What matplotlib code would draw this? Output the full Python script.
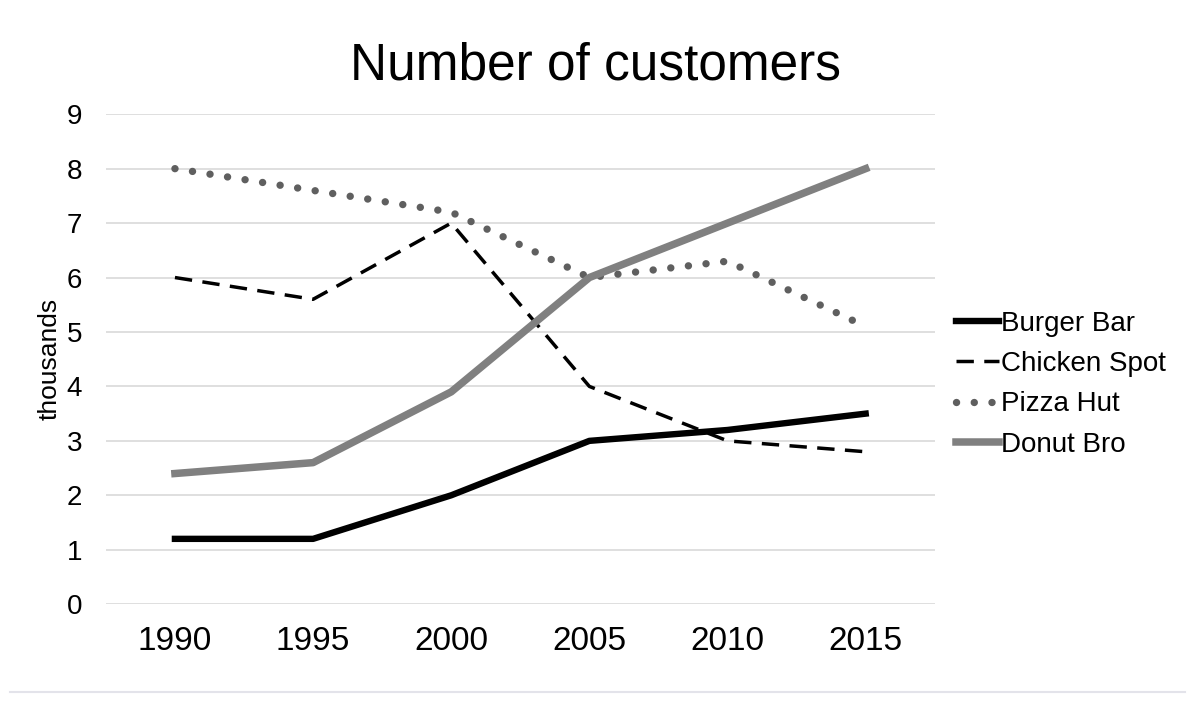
import numpy as np
import matplotlib.pyplot as plt
from matplotlib.lines import Line2D

plt.rcParams['font.family'] = ['Liberation Sans', 'DejaVu Sans']

# Data (thousands of customers)
years = ['1990', '1995', '2000', '2005', '2010', '2015']
burger_bar = [1.2, 1.2, 2.0, 3.0, 3.2, 3.5]
chicken_spot = [6.0, 5.6, 7.0, 4.0, 3.0, 2.8]
pizza_hut = [8.0, 7.6, 7.2, 6.0, 6.3, 5.1]
donut_bro = [2.4, 2.6, 3.9, 6.0, 7.0, 8.0]

x = np.arange(len(years))

fig = plt.figure(figsize=(12.03, 7.05), dpi=100)
ax = fig.add_axes([0.088, 0.143, 0.689, 0.695])

ax.plot(x, burger_bar, color='black', lw=4.6, label='Burger Bar')
ax.plot(x, chicken_spot, color='black', lw=2.5, dashes=(5, 3), label='Chicken Spot')
ax.plot(x, pizza_hut, color='#5f5f5f', lw=5.3, dashes=(0.01, 2.4),
        dash_capstyle='round', label='Pizza Hut')
ax.plot(x, donut_bro, color='#808080', lw=5.4, label='Donut Bro')

ax.set_xlim(-0.5, 5.5)
ax.set_ylim(0, 9)
ax.set_yticks(range(0, 10))
ax.set_xticks(x)
ax.set_xticklabels(years)
ax.tick_params(axis='x', length=0, pad=16, labelsize=24)
ax.tick_params(axis='y', length=0, pad=17, labelsize=20)
ax.grid(axis='y', color='#d9d9d9', lw=1.2)
ax.set_axisbelow(True)
for s in ax.spines.values():
    s.set_visible(False)

ax.set_ylabel('thousands', fontsize=19, labelpad=4)
fig.text(0.495, 0.907, 'Number of customers', fontsize=37, ha='center', va='center')

ax.legend(loc='center left', bbox_to_anchor=(0.783, 0.455), bbox_transform=fig.transFigure,
          frameon=False, fontsize=20, handlelength=1.55, handletextpad=0.08,
          labelspacing=0.52, borderpad=0)

# separator line at the bottom
fig.add_artist(Line2D([0.008, 0.985], [0.018, 0.018], transform=fig.transFigure,
                      color='#e3e3ea', lw=1.5))

fig.savefig('out.png', dpi=100)
